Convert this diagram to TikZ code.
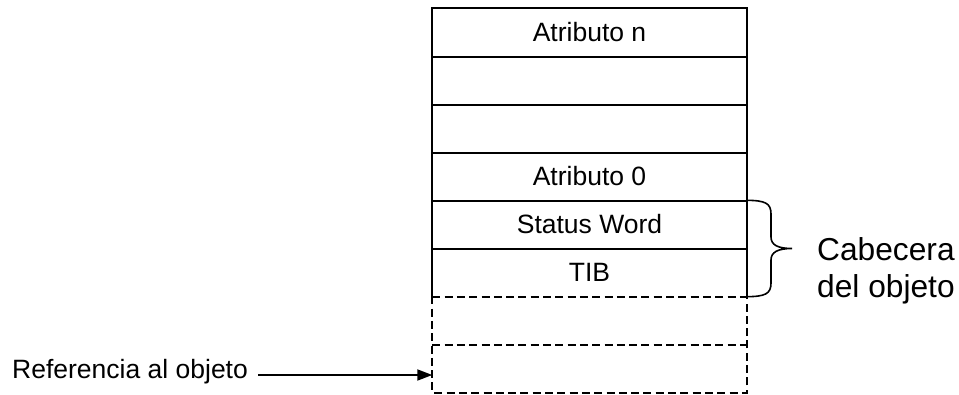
\documentclass[tikz,border=0pt]{standalone}
\usepackage{fontspec}
\setmainfont{Liberation Sans}
\usetikzlibrary{arrows.meta}
\begin{document}
\begin{tikzpicture}[x=1pt,y=-1pt,
  rowbox/.style={minimum width=314pt,minimum height=48pt,inner sep=0pt,draw=none,
    font=\fontsize{26.5}{30}\selectfont},
  solidline/.style={line width=2pt},
  dashline/.style={line width=2pt,dash pattern=on 8pt off 4.3pt},
  bigtext/.style={font=\fontsize{31.7}{37}\selectfont,inner sep=0pt,anchor=base west},
  smalltext/.style={font=\fontsize{26.5}{30}\selectfont,inner sep=0pt,anchor=base west},
  arrowline/.style={line width=1.8pt,-{Triangle[length=15pt,width=11pt]}}]
\useasboundingbox (0,0) rectangle (959,394);
\node[rowbox] (r1) at (589.5,32.5) {Atributo n};
\node[rowbox] (r2) at (589.5,80.5) {};
\node[rowbox] (r3) at (589.5,128.5) {};
\node[rowbox] (r4) at (589.5,176.5) {Atributo 0};
\node[rowbox] (r5) at (589.5,224.5) {Status Word};
\node[rowbox] (r6) at (589.5,272.5) {TIB};
\node[rowbox] (r7) at (589.5,320.5) {};
\node[rowbox] (r8) at (589.5,368.5) {};
% solid part
\draw[solidline] (r6.south west) -- (r1.north west) -- (r1.north east) -- (r6.south east);
\foreach \i in {1,...,5}{\draw[solidline] (r\i.south west) -- (r\i.south east);}
% dashed part
\draw[dashline] (r6.south west) -- (r6.south east);
\draw[dashline] (r7.south west) -- (r7.south east);
\draw[dashline] (r7.north west) -- (r8.south west) -- (r8.south east) -- (r7.north east);
% brace
\coordinate (btip) at (792,248.5);
\draw[line width=1.6pt] (r5.north east) .. controls (765,200.5) and (771,203) .. (771,214)
  -- (771,237) .. controls (771,245) and (778,248.5) .. (btip)
  .. controls (778,248.5) and (771,252) .. (771,260)
  -- (771,283) .. controls (771,294) and (765,296.5) .. (r6.south east);
% labels
\node[bigtext] (cab) at (817,260) {Cabecera};
\node[bigtext] (del) at (817,297) {del objeto};
\node[smalltext] (ref) at (12,378) {Referencia al objeto};
\coordinate (refstart) at (258,375);
\draw[arrowline] (refstart) -- (r8.west |- refstart);
\end{tikzpicture}
\end{document}
